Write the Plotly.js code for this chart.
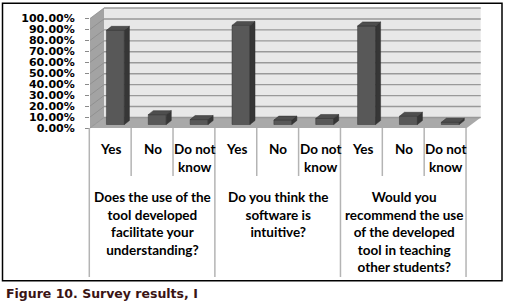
<!DOCTYPE html>
<html><head><meta charset="utf-8">
<script src="https://cdn.plot.ly/plotly-3.0.1.min.js"></script>
<style>html,body{margin:0;padding:0;background:#fff}#chart{width:506px;height:304px}</style>
</head><body><div id="chart"></div>
<script>
// ---- data ----
const answers = ["Yes", "No", "Do not<br>know"];
const questions = [
  "Does the use of the<br>tool developed<br>facilitate your<br>understanding?",
  "Do you think the<br>software is<br>intuitive?",
  "Would you<br>recommend the use<br>of the developed<br>tool in teaching<br>other students?"
];
const q1Values = [0.86, 0.09, 0.045];
const q2Values = [0.905, 0.04, 0.055];
const q3Values = [0.90, 0.075, 0.02];
const yTickValues = [0, 0.1, 0.2, 0.3, 0.4, 0.5, 0.6, 0.7, 0.8, 0.9, 1.0];
const caption = "Figure 10. Survey results, I";

// ---- geometry ----
const W = 506, H = 304, L = 90, R = 16, T = 5, B = 173;
const plotW = W - L - R, plotH = H - T - B;
const PXX = 41.86, PXY = 109.5;           // px per category / per 100%
const zeroPx = 128;
const xRange = [0, plotW / PXX];
const yRange = [-(T + plotH - zeroPx) / PXY, (zeroPx - T) / PXY];
const pX = X => (X - L) / plotW;
const pY = Y => (T + plotH - Y) / plotH;
const DX = 14 / PXX, DY = 10.5 / PXY;     // chart depth
const BW = 18 / PXX, FX = 4.5 / PXX, FY = 3.5 / PXY, BDX = 5 / PXX, BDY = 4 / PXY;

const values = q1Values.concat(q2Values, q3Values);
const nCat = values.length;
const catLabels = [];
questions.forEach(() => answers.forEach(a => catLabels.push(a)));

const shapes = [];
// floor
shapes.push({type: 'path', xref: 'x', yref: 'y', layer: 'below',
  path: `M0,0 L${nCat},0 L${nCat + DX},${DY} L${DX},${DY} Z`,
  fillcolor: '#a9a9a9', line: {width: 0}});
// back wall
shapes.push({type: 'rect', xref: 'x', yref: 'y', layer: 'below',
  x0: DX, x1: nCat + DX, y0: DY, y1: 1 + DY,
  fillcolor: '#e8e8e8', line: {width: 0}});
// side wall
shapes.push({type: 'path', xref: 'x', yref: 'y', layer: 'below',
  path: `M0,0 L${DX},${DY} L${DX},${1 + DY} L0,1 Z`,
  fillcolor: '#a3a3a3', line: {width: 0}});
// gridlines
yTickValues.forEach(t => {
  shapes.push({type: 'line', xref: 'x', yref: 'y', layer: 'below',
    x0: DX, x1: nCat + DX, y0: t + DY, y1: t + DY,
    line: {color: '#999999', width: 1.4}});
  shapes.push({type: 'line', xref: 'x', yref: 'y', layer: 'below',
    x0: 0, x1: DX, y0: t, y1: t + DY,
    line: {color: '#8c8c8c', width: 0.8}});
});
// 3D faces of bars
values.forEach((v, i) => {
  const xl = i + 0.5 + FX - BW / 2, xr = xl + BW, y0 = FY, y1 = FY + v;
  shapes.push({type: 'path', xref: 'x', yref: 'y', layer: 'above',
    path: `M${xr},${y0} L${xr + BDX},${y0 + BDY} L${xr + BDX},${y1 + BDY} L${xr},${y1} Z`,
    fillcolor: '#363636', line: {color: '#2e2e2e', width: 0.5}});
  shapes.push({type: 'path', xref: 'x', yref: 'y', layer: 'above',
    path: `M${xl},${y1} L${xl + BDX},${y1 + BDY} L${xr + BDX},${y1 + BDY} L${xr},${y1} Z`,
    fillcolor: '#4e4e4e', line: {color: '#2e2e2e', width: 0.5}});
});
// category dividers
for (let k = 0; k <= nCat; k++) {
  const big = k % answers.length === 0;
  const xp = pX(L + k * PXX - 0.7);
  shapes.push({type: 'line', xref: 'paper', yref: 'paper',
    x0: xp, x1: xp, y0: pY(128), y1: pY(big ? 277 : 176),
    line: {color: '#b4b4b4', width: 1.5}});
}
// outer border
shapes.push({type: 'rect', xref: 'paper', yref: 'paper',
  x0: pX(2.5), x1: pX(502), y0: pY(3.3), y1: pY(280.7),
  line: {color: '#000', width: 1.5}, fillcolor: 'rgba(0,0,0,0)'});

const labelFont = {family: 'Lato, sans-serif', size: 13.5, color: '#000', weight: 'bold'};
const annotations = [];
catLabels.forEach((c, i) => annotations.push({
  xref: 'x', yref: 'paper', x: i + 0.5, y: pY(139), xanchor: 'center', yanchor: 'top',
  text: c, showarrow: false, font: labelFont, align: 'center'}));
questions.forEach((q, g) => annotations.push({
  xref: 'x', yref: 'paper', x: g * answers.length + answers.length / 2, y: pY(187), xanchor: 'center', yanchor: 'top',
  text: q, showarrow: false, font: labelFont, align: 'center'}));
annotations.push({xref: 'paper', yref: 'paper', x: pX(4), y: pY(293.5), xanchor: 'left', yanchor: 'middle',
  text: caption, showarrow: false,
  font: {family: 'DejaVu Sans', size: 12.5, weight: 'bold', color: '#3a1414'}});

const traces = [{
  type: 'bar', x: values.map((v, i) => i + 0.5 + FX), y: values, base: FY, width: BW,
  marker: {color: '#585858', line: {color: '#333', width: 0.5}},
  hoverinfo: 'skip'
}];

const layout = {
  width: W, height: H, margin: {l: L, r: R, t: T, b: B, pad: 0},
  paper_bgcolor: '#fff', plot_bgcolor: 'rgba(0,0,0,0)', showlegend: false,
  xaxis: {range: xRange, showgrid: false, zeroline: false, showticklabels: false, ticks: '', showline: false, fixedrange: true},
  yaxis: {range: yRange, tickvals: yTickValues, tickformat: '.2%', showgrid: false, zeroline: false,
    ticks: 'outside', ticklen: 4, tickwidth: 1, tickcolor: '#8a8a8a', showline: false,
    ticklabelstandoff: 8,
    tickfont: {family: 'DejaVu Sans', size: 11, weight: 'bold', color: '#000'}},
  shapes: shapes, annotations: annotations
};
Plotly.newPlot('chart', traces, layout, {staticPlot: true, displayModeBar: false});
</script></body></html>
